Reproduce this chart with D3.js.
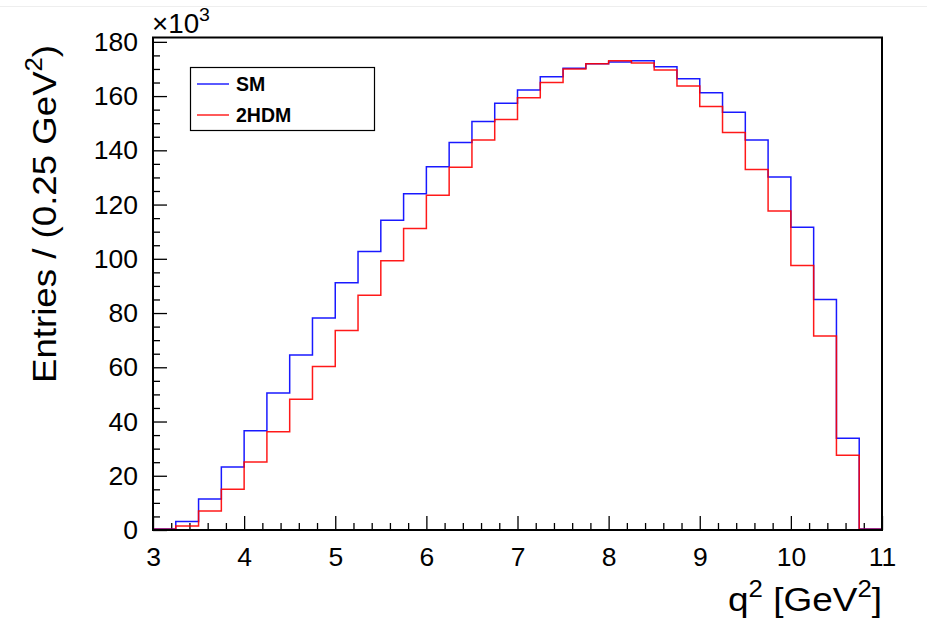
<!DOCTYPE html>
<html>
<head>
<meta charset="utf-8">
<script src="https://cdn.jsdelivr.net/npm/d3@7"></script>
<style>
  body { margin: 0; background: #fff; }
  svg { display: block; font-family: "Liberation Sans", Arial, Helvetica, sans-serif; }
</style>
</head>
<body>
<svg id="chart" width="927" height="627"></svg>
<script>
// q^2 histograms, 0.25 GeV^2 bins, entries in units of 10^3
let binLow = [3.00, 3.25, 3.50, 3.75, 4.00, 4.25, 4.50, 4.75,
              5.00, 5.25, 5.50, 5.75, 6.00, 6.25, 6.50, 6.75,
              7.00, 7.25, 7.50, 7.75, 8.00, 8.25, 8.50, 8.75,
              9.00, 9.25, 9.50, 9.75, 10.00, 10.25, 10.50, 10.75];
let binWidth = 0.25;

let smValues = [0.4, 3.1, 11.4, 23.2, 36.6, 50.5, 64.5, 78.2,
                91.2, 102.7, 114.2, 124.0, 133.9, 142.9, 150.6, 157.4,
                162.2, 167.1, 170.3, 171.9, 172.6, 173.0, 170.8, 166.4,
                161.2, 154.0, 143.8, 130.2, 111.6, 85.0, 33.8, 0.4];

let thdmValues = [0.3, 1.5, 7.0, 15.0, 25.1, 36.2, 48.2, 60.3,
                  73.6, 86.6, 99.3, 111.2, 123.4, 133.8, 143.8, 151.4,
                  159.4, 165.0, 170.0, 171.9, 173.0, 172.2, 169.6, 163.7,
                  156.2, 146.6, 132.9, 117.6, 97.5, 71.5, 27.6, 0.3];

let seriesNames = ['SM', '2HDM'];
let seriesColors = ['#0000ff', '#ff0000'];

let xMajorTicks = [3, 4, 5, 6, 7, 8, 9, 10, 11];
let yMajorTicks = [0, 20, 40, 60, 80, 100, 120, 140, 160, 180];

let xDomain = [3, 11];
let yDomain = [0, 181.6];

let frame = {left: 153, right: 882, top: 37.5, bottom: 530};

let svg = d3.select('#chart');

// faint canvas edge at the top
svg.append('line')
   .attr('x1', 0).attr('x2', 927).attr('y1', 6.5).attr('y2', 6.5)
   .style('stroke', '#eeeeee').style('stroke-width', 1);

let x = d3.scaleLinear().domain(xDomain).range([frame.left, frame.right]);
let y = d3.scaleLinear().domain(yDomain).range([frame.bottom, frame.top]);

// minor ticks
let xMinor = d3.range(3, 11.001, 0.2).map(v => +v.toFixed(2)).filter(v => xMajorTicks.indexOf(v) < 0);
let yMinor = d3.range(0, 181, 5).filter(v => yMajorTicks.indexOf(v) < 0);

svg.append('g')
   .attr('transform', `translate(0,${frame.bottom})`)
   .call(d3.axisBottom(x).tickValues(xMinor).tickSize(-7).tickFormat(''))
   .call(g => g.select('.domain').remove());

svg.append('g')
   .attr('transform', `translate(${frame.left},0)`)
   .call(d3.axisLeft(y).tickValues(yMinor).tickSize(-7).tickFormat(''))
   .call(g => g.select('.domain').remove());

let xAxis = svg.append('g')
   .attr('transform', `translate(0,${frame.bottom})`)
   .call(d3.axisBottom(x).tickValues(xMajorTicks).tickSize(-14).tickPadding(17).tickSizeOuter(0));

let yAxis = svg.append('g')
   .attr('transform', `translate(${frame.left},0)`)
   .call(d3.axisLeft(y).tickValues(yMajorTicks).tickSize(-14).tickPadding(15).tickSizeOuter(0));

[xAxis, yAxis].forEach(g => {
  g.selectAll('.tick text')
   .style('font-size', '26.5px')
   .style('font-family', '"Liberation Sans", Arial, sans-serif')
   .style('fill', '#000');
  g.select('.domain').remove();
});
svg.selectAll('.tick line').style('stroke', '#000').style('stroke-width', 1.3);

// histogram outlines
function stepPath(values) {
  let pts = [[x(binLow[0]), y(0)]];
  values.forEach((v, i) => {
    pts.push([x(binLow[i]), y(v)]);
    pts.push([x(binLow[i] + binWidth), y(v)]);
  });
  pts.push([x(binLow[binLow.length - 1] + binWidth), y(0)]);
  return d3.line()(pts);
}

[smValues, thdmValues].forEach((vals, i) => {
  svg.append('path')
     .attr('d', stepPath(vals))
     .style('fill', 'none')
     .style('stroke', seriesColors[i])
     .style('stroke-width', 1.5)
     .style('opacity', 0.9);
});

// frame
svg.append('rect')
   .attr('x', frame.left).attr('y', frame.top)
   .attr('width', frame.right - frame.left)
   .attr('height', frame.bottom - frame.top)
   .style('fill', 'none').style('stroke', '#000').style('stroke-width', 2);

// exponent label
let expo = svg.append('text')
   .attr('x', 152).attr('y', 33)
   .attr('textLength', 58).attr('lengthAdjust', 'spacingAndGlyphs')
   .style('font-size', '27px');
expo.append('tspan').text('\u00d710');
expo.append('tspan').attr('dy', -12).style('font-size', '19px').text('3');

// axis titles
let xt = svg.append('text')
   .attr('x', 882).attr('y', 611)
   .attr('text-anchor', 'end')
   .attr('textLength', 154).attr('lengthAdjust', 'spacingAndGlyphs')
   .style('font-size', '33px');
xt.append('tspan').text('q');
xt.append('tspan').attr('dy', -14).style('font-size', '23px').text('2');
xt.append('tspan').attr('dy', 14).text(' [GeV');
xt.append('tspan').attr('dy', -14).style('font-size', '23px').text('2');
xt.append('tspan').attr('dy', 14).text(']');

let yt = svg.append('text')
   .attr('transform', 'translate(56,45) rotate(-90)')
   .attr('text-anchor', 'end')
   .attr('textLength', 338).attr('lengthAdjust', 'spacingAndGlyphs')
   .style('font-size', '33px');
yt.append('tspan').text('Entries / (0.25 GeV');
yt.append('tspan').attr('dy', -14).style('font-size', '23px').text('2');
yt.append('tspan').attr('dy', 14).text(')');

// legend
let legend = svg.append('g');
legend.append('rect')
   .attr('x', 190.5).attr('y', 67.5).attr('width', 184).attr('height', 63)
   .style('fill', '#fff').style('stroke', '#000').style('stroke-width', 1.2);

let legendRows = [84, 115];
seriesNames.forEach((name, i) => {
  legend.append('line')
     .attr('x1', 197).attr('x2', 229)
     .attr('y1', legendRows[i]).attr('y2', legendRows[i])
     .style('stroke', seriesColors[i]).style('stroke-width', 1.3);
  legend.append('text')
     .attr('x', 236).attr('y', legendRows[i] + 7)
     .style('font-size', '19.5px').style('font-weight', 'bold')
     .text(name);
});
</script>
</body>
</html>
